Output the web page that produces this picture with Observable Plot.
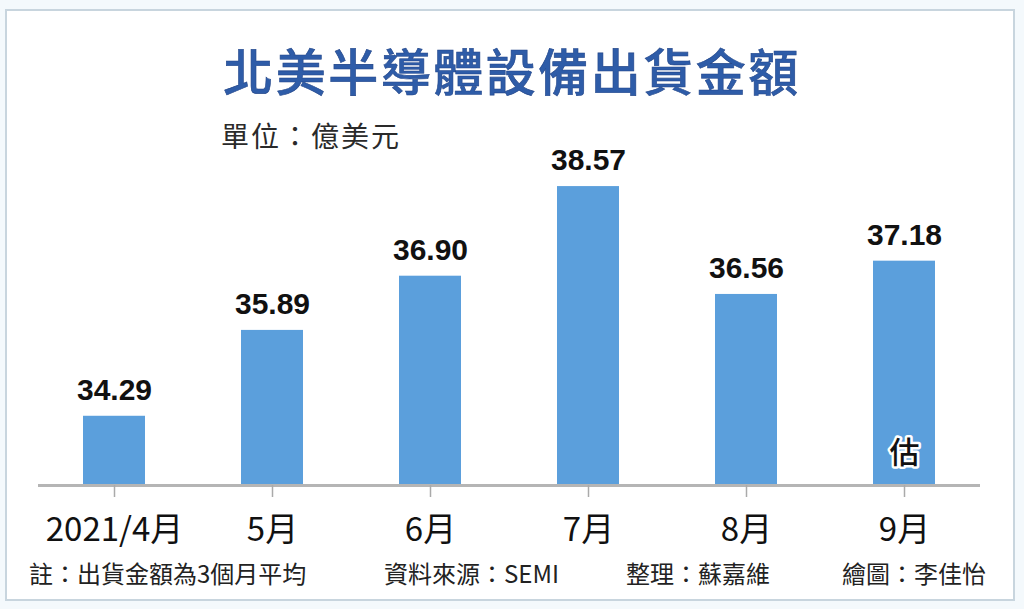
<!DOCTYPE html>
<html>
<head>
<meta charset="utf-8">
<script src="https://cdn.jsdelivr.net/npm/d3@7"></script>
<script src="https://cdn.jsdelivr.net/npm/@observablehq/plot@0.6"></script>
<style>
  html, body { margin: 0; padding: 0; background: #f4f9fc; }
  #page { position: relative; width: 1024px; height: 609px; overflow: hidden; background: #f4f9fc; }
  #frame { position: absolute; left: 5px; top: 9px; width: 1006px; height: 588px; background: #ffffff; border: 2px solid #c8d5de; }
  .cjk { font-family: "Noto Sans CJK TC", "Noto Sans CJK SC", sans-serif; position: absolute; white-space: nowrap; }
  #title { left: 0; width: 1024px; top: 43px; text-align: center; font-size: 50px; line-height: 52px; font-weight: 500; color: #2e5ca8; letter-spacing: 2.5px; -webkit-text-stroke: 0.6px #24478a; }
  #subtitle { left: 221px; top: 119px; font-size: 28px; line-height: 32px; color: #2a2a2a; letter-spacing: 2px; }
  .foot { top: 559px; font-size: 24px; line-height: 28px; color: #222; }
  #chart { position: absolute; left: 0; top: 140px; }
</style>
</head>
<body>
<div id="page">
  <div id="frame"></div>
  <div id="title" class="cjk"></div>
  <div id="subtitle" class="cjk"></div>
  <div id="chart"></div>
  <div id="f1" class="cjk foot" style="left:29px"></div>
  <div id="f2" class="cjk foot" style="left:384px"></div>
  <div id="f3" class="cjk foot" style="left:626px"></div>
  <div id="f4" class="cjk foot" style="left:842px"></div>
</div>
<script>
const titleText = "北美半導體設備出貨金額";
const subtitleText = "單位：億美元";
const footnotes = ["註：出貨金額為3個月平均", "資料來源：SEMI", "整理：蘇嘉維", "繪圖：李佳怡"];

const months = ["2021/4月", "5月", "6月", "7月", "8月", "9月"];
const values = [34.29, 35.89, 36.90, 38.57, 36.56, 37.18];
const yDomain = [33, 39];
const noteMonths = ["9月"];
const noteTexts = ["估"];

document.getElementById("title").textContent = titleText;
document.getElementById("subtitle").textContent = subtitleText;
["f1", "f2", "f3", "f4"].forEach((id, i) => document.getElementById(id).textContent = footnotes[i]);

const data = months.map((m, i) => ({month: m, value: values[i]}));
const notes = noteMonths.map((m, i) => ({month: m, text: noteTexts[i]}));

const chart = Plot.plot({
  width: 1024,
  height: 415,
  marginLeft: 38,
  marginRight: 44,
  marginTop: 23,
  marginBottom: 70,
  style: {background: "transparent", fontFamily: "'Liberation Sans', 'Noto Sans CJK TC', sans-serif", color: "#111"},
  x: {domain: months, paddingInner: 0.61, paddingOuter: 0.28, label: null},
  y: {domain: yDomain, axis: null},
  marks: [
    Plot.barY(data, {x: "month", y1: yDomain[0], y2: "value", fill: "#5b9fdc"}),
    Plot.ruleY([yDomain[0]], {stroke: "#b5b5b5", strokeWidth: 3}),
    Plot.axisX({tickSize: 12, tickPadding: 20, stroke: "#aaaaaa", strokeWidth: 1.5, fill: "#111", fontSize: 33, fontWeight: 400, label: null,
      fontFamily: "'Noto Sans CJK TC', sans-serif"}),
    Plot.text(data, {x: "month", y: "value", text: d => d.value.toFixed(2), dy: -26, fontSize: 30, fontWeight: "bold", fill: "#111",
      fontFamily: "'Liberation Sans', sans-serif"}),
    Plot.text(notes, {x: "month", y: yDomain[0], text: "text", dy: -32, fontSize: 30, fontWeight: 500, fill: "#111",
      stroke: "white", strokeWidth: 5, paintOrder: "stroke", fontFamily: "'Noto Sans CJK TC', sans-serif"})
  ]
});
document.getElementById("chart").appendChild(chart);
</script>
</body>
</html>
